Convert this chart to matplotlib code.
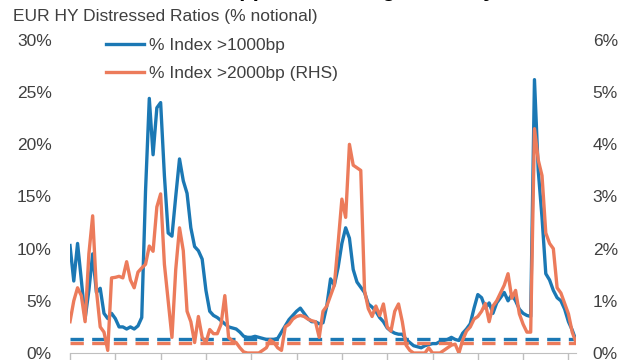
import matplotlib.pyplot as plt
import numpy as np

plt.rcParams['font.family'] = ['Liberation Sans', 'DejaVu Sans']

# monthly observations, one x tick every 12 months
idx_1000 = [10.3, 6.9, 10.5, 7.0, 3.3, 6.0, 9.5, 5.8, 6.2, 3.8,
            3.3, 3.8, 3.3, 2.5, 2.5, 2.3, 2.5, 2.3, 2.6, 3.4,
            15.5, 24.4, 19.0, 23.5, 24.0, 17.0, 11.5, 11.2, 15.0, 18.6,
            16.5, 15.3, 12.0, 10.2, 9.8, 9.0, 6.0, 4.0, 3.6, 3.4,
            3.1, 2.8, 2.5, 2.4, 2.3, 2.0, 1.6, 1.5, 1.5, 1.6,
            1.5, 1.4, 1.3, 1.3, 1.3, 1.4, 2.0, 2.6, 3.2, 3.6,
            4.0, 4.3, 3.8, 3.3, 3.0, 3.0, 2.8, 2.9, 4.5, 7.1,
            6.5, 8.2, 10.5, 12.0, 11.0, 8.0, 6.8, 6.3, 5.8, 4.7,
            4.4, 4.0, 3.4, 3.0, 2.4, 2.1, 1.9, 1.8, 1.8, 1.3,
            1.0, 0.7, 0.6, 0.5, 0.7, 0.8, 0.9, 0.9, 1.1, 1.2,
            1.3, 1.5, 1.3, 1.2, 1.9, 2.3, 2.8, 4.3, 5.6, 5.3,
            4.3, 4.8, 3.8, 4.8, 5.3, 5.8, 5.0, 5.6, 5.0, 4.2,
            3.8, 3.6, 3.5, 26.2, 17.5, 13.0, 7.6, 7.0, 6.0, 5.3,
            5.0, 4.2, 3.0, 2.2, 1.2]

idx_2000 = [0.6, 1.0, 1.25, 1.1, 0.6, 1.9, 2.63, 1.2, 0.5, 0.4,
            0.05, 1.44, 1.45, 1.47, 1.44, 1.75, 1.4, 1.25, 1.55, 1.63,
            1.7, 2.05, 1.95, 2.8, 3.05, 1.7, 1.0, 0.3, 1.6, 2.4,
            1.96, 0.8, 0.6, 0.2, 0.7, 0.3, 0.2, 0.45, 0.37, 0.37,
            0.55, 1.1, 0.3, 0.23, 0.2, 0.1, 0.02, 0.0, 0.0, 0.0,
            0.0, 0.05, 0.1, 0.25, 0.2, 0.1, 0.05, 0.5, 0.55, 0.65,
            0.7, 0.72, 0.7, 0.65, 0.62, 0.6, 0.3, 0.8, 0.9, 1.1,
            1.3, 2.1, 2.95, 2.6, 4.0, 3.6, 3.55, 3.5, 1.2, 0.85,
            0.7, 0.9, 0.72, 0.94, 0.5, 0.42, 0.8, 0.94, 0.6, 0.15,
            0.05, 0.0, 0.0, 0.0, 0.0, 0.1, 0.0, 0.0, 0.0, 0.05,
            0.1, 0.15, 0.17, 0.0, 0.25, 0.42, 0.5, 0.65, 0.7, 0.8,
            0.95, 0.6, 0.9, 1.0, 1.15, 1.3, 1.52, 1.05, 1.2, 0.75,
            0.55, 0.4, 0.4, 4.3, 3.7, 3.4, 2.3, 2.1, 2.0, 1.25,
            1.15, 0.95, 0.75, 0.4, 0.2]

avg_1000 = 1.3
avg_2000 = 0.2

months = np.arange(len(idx_1000))

blue = '#1b78b4'
orange = '#ec7b5b'
grey_txt = '#404040'

fig = plt.figure(figsize=(6.4, 3.6), dpi=100)
ax = fig.add_axes([70 / 640, 7 / 360, 506 / 640, 313 / 360])
ax2 = ax.twinx()

l1, = ax.plot(months, idx_1000, color=blue, lw=2.4, solid_joinstyle='round')
ax.plot([months[0], months[-1]], [avg_1000, avg_1000], color=blue, lw=2.4,
        dashes=(4, 2.5))
l2, = ax2.plot(months, idx_2000, color=orange, lw=2.4, solid_joinstyle='round')
ax2.plot([months[0], months[-1]], [avg_2000, avg_2000], color=orange, lw=2.4,
         dashes=(4, 2.5))

ax.set_xlim(0, len(months) - 1)
ax.set_ylim(0, 30)
ax2.set_ylim(0, 6)

ax.set_yticks(range(0, 31, 5))
ax.set_yticklabels([f'{v}%' for v in range(0, 31, 5)])
ax2.set_yticks(range(0, 7))
ax2.set_yticklabels([f'{v}%' for v in range(0, 7)])
ax.set_xticks(months[::12])
ax.set_xticklabels([])

for a in (ax, ax2):
    for s in ('top', 'left', 'right'):
        a.spines[s].set_visible(False)
    a.spines['bottom'].set_color('#bfbfbf')
ax2.spines['bottom'].set_visible(False)
ax.tick_params(axis='y', length=0, pad=13, labelsize=12.5, labelcolor=grey_txt)
ax2.tick_params(axis='y', length=0, pad=12, labelsize=12.5, labelcolor=grey_txt)
ax.tick_params(axis='x', length=8, color='#bfbfbf', width=1)

ax2.legend([l1, l2], ['% Index >1000bp', '% Index >2000bp (RHS)'],
           loc='upper left', bbox_to_anchor=(106 / 640, 1 - 38 / 360),
           bbox_transform=fig.transFigure, frameon=False, fontsize=12.5,
           handlelength=2.2, handletextpad=0.3, labelspacing=0.75,
           borderpad=0, borderaxespad=0, labelcolor=grey_txt)

fig.text(13 / 640, 1 - 17 / 360, 'EUR HY Distressed Ratios (% notional)',
         fontsize=12.5, color=grey_txt, va='center', ha='left')
fig.text(110 / 640, 1 + 4 / 360, 'Distress dropped, almost gone away',
         fontsize=16, fontweight='bold', color='black', va='baseline',
         ha='left')

fig.savefig('out.png', dpi=100)
